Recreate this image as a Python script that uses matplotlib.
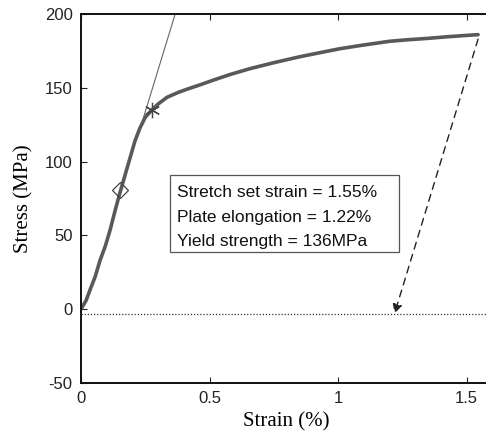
import matplotlib.pyplot as plt
from matplotlib.patches import Rectangle

plt.rcParams['axes.unicode_minus'] = False

# stress-strain curve
strain = [0, 0.02, 0.035, 0.055, 0.074, 0.095, 0.113, 0.13, 0.15, 0.17, 0.19, 0.21,
          0.23, 0.25, 0.276, 0.30, 0.335, 0.38, 0.42, 0.463, 0.52, 0.58, 0.658, 0.75,
          0.85, 0.95, 1.008, 1.1, 1.2, 1.268, 1.35, 1.42, 1.5, 1.545]
stress = [0, 6, 13, 22, 33, 43, 53.5, 65, 78, 90, 102, 114,
          123, 130, 135, 139, 143.6, 147, 149.5, 152, 155.5, 159, 163, 167,
          171, 174.5, 176.5, 179, 181.5, 182.5, 183.5, 184.5, 185.5, 186]

elastic_strain = [0.24, 0.37]
elastic_stress = [128, 202]

diamond_pt = (0.15, 81)
yield_pt = (0.276, 135)

unload_start = (1.545, 183)
unload_end = (1.22, -3)

baseline_x = [0, 1.6]
baseline_y = [-3.5, -3.5]

info_lines = ["Stretch set strain = 1.55%",
              "Plate elongation = 1.22%",
              "Yield strength = 136MPa"]

fig = plt.figure(figsize=(4.86, 4.43), dpi=100)
ax = fig.add_axes([81 / 486, 60 / 443, (1.6 * 257) / 486, 369 / 443])

ax.plot(baseline_x, baseline_y, ls=(0, (1, 1.5)), color='#333333', lw=0.9)
ax.plot(elastic_strain, elastic_stress, color='#666666', lw=0.8)
ax.plot(strain, stress, color='#595959', lw=2.6, solid_capstyle='round')
ax.plot(*diamond_pt, marker='D', ms=8, mfc='none', mec='#444444', mew=0.9)
ax.plot(*yield_pt, marker=(6, 2, 0), ms=11, color='#444444', mew=0.9)

ax.annotate('', xy=unload_end, xytext=unload_start,
            arrowprops=dict(arrowstyle='-|>', ls=(0, (5, 4)), color='#222222',
                            lw=1.0, mutation_scale=14, shrinkA=0, shrinkB=0))

# info box
ax.add_patch(Rectangle((0.346, 38.6), 0.891, 52.2, fc='white', ec='#555555',
                       lw=0.9, zorder=4))
for i, line in enumerate(info_lines):
    ax.text(0.372, 79 - 16.7 * i, line, fontsize=12.5, family='Liberation Sans',
            color='#111111', va='center', ha='left', zorder=5)

ax.set_xlim(0, 1.6)
ax.set_ylim(-50, 200)
ax.set_xticks([0, 0.5, 1, 1.5])
ax.set_xticklabels(['0', '0.5', '1', '1.5'])
ax.set_yticks([-50, 0, 50, 100, 150, 200])
ax.tick_params(direction='in', top=True, right=False, length=4, width=0.8,
               labelsize=12, colors='#222222', pad=6)
for lab in ax.get_xticklabels() + ax.get_yticklabels():
    lab.set_family('Liberation Sans')
for s in ['left', 'bottom', 'top']:
    ax.spines[s].set_linewidth(1.4)
    ax.spines[s].set_color('#111111')
ax.spines['right'].set_visible(False)

ax.set_xlabel('Strain (%)', family='Liberation Serif', fontsize=15, labelpad=4)
ax.set_ylabel('Stress (MPa)', family='Liberation Serif', fontsize=15, labelpad=8)

fig.savefig('out.png', dpi=100)
